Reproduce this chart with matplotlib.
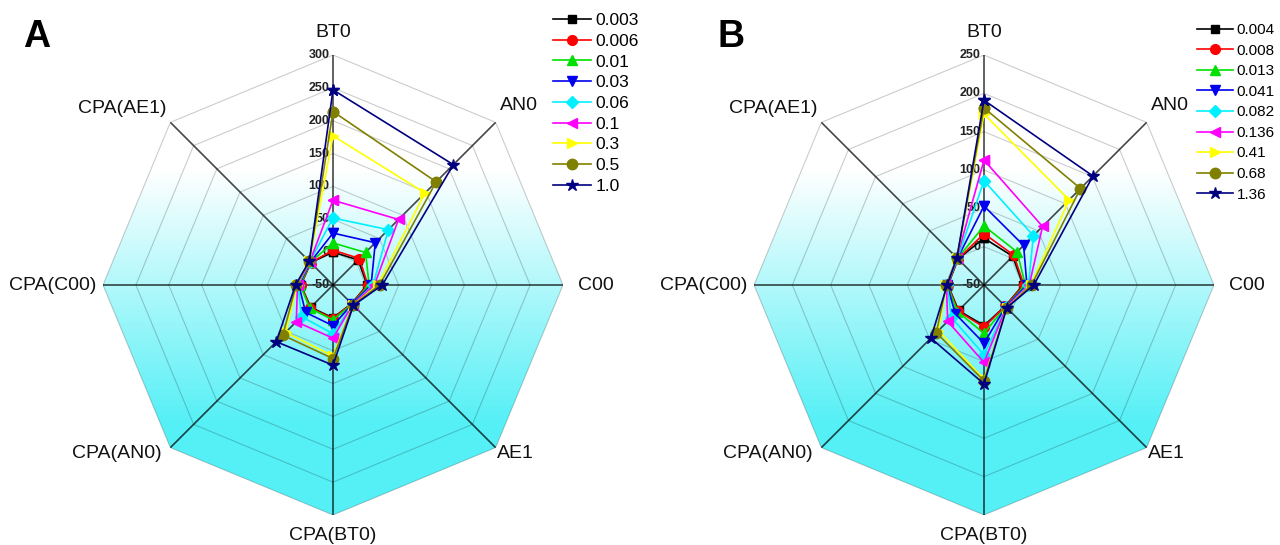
import numpy as np
import matplotlib
matplotlib.use('Agg')
import matplotlib.pyplot as plt
from matplotlib.patches import Polygon

plt.rcParams['font.family'] = ['Liberation Sans', 'DejaVu Sans']

# ---------------- data ----------------
axis_labels = ['BT0', 'AN0', 'C00', 'AE1', 'CPA(BT0)', 'CPA(AN0)', 'CPA(C00)', 'CPA(AE1)']

conc_A = ['0.003', '0.006', '0.01', '0.03', '0.06', '0.1', '0.3', '0.5', '1.0']
ticks_A = [-50, 0, 50, 100, 150, 200, 250, 300]
values_A = [
    [0, 4, 2, -10, 0, -2, -1, -2],
    [3, 7, 3, -10, 1, -1, -1, -2],
    [14, 20, 5, -9, 3, 0, 0, -1],
    [29, 41, 8, -9, 12, 9, 2, -1],
    [52, 69, 11, -8, 24, 18, 3, 0],
    [79, 91, 13, -8, 31, 29, 4, 0],
    [177, 148, 18, -7, 58, 52, 5, 1],
    [214, 172, 21, -7, 62, 58, 6, 1],
    [247, 209, 25, -6, 72, 72, 7, 1],
]

conc_B = ['0.004', '0.008', '0.013', '0.041', '0.082', '0.136', '0.41', '0.68', '1.36']
ticks_B = [-50, 0, 50, 100, 150, 200, 250]
values_B = [
    [11, 3, 1, -11, 3, -3, -3, -2],
    [17, 5, 2, -11, 5, -2, -3, -2],
    [27, 11, 4, -10, 13, -1, -2, -1],
    [53, 23, 6, -10, 26, 3, -2, -1],
    [86, 41, 8, -9, 41, 10, -2, -1],
    [113, 58, 9, -9, 51, 17, -1, 0],
    [173, 107, 11, -8, 73, 34, -1, 0],
    [181, 128, 12, -8, 75, 38, -1, 0],
    [191, 151, 15, -8, 79, 48, -2, 0],
]

# ---------------- styles ----------------
colors = ['#000000', '#ff0000', '#00e000', '#0000ee', '#00f0ff',
          '#ff00ff', '#ffff00', '#808000', '#000080']
markers = ['s', 'o', '^', 'v', 'D', '<', '>', 'o', '*']
msizes = [6, 7, 7, 7.5, 6, 7.5, 7.5, 7.5, 9]

label_offsets = [  # (dx, dy) in points, ha, va
    ((0, 16), 'center', 'center'),
    ((3, 12), 'left', 'center'),
    ((11, 0), 'left', 'center'),
    ((1, -4), 'left', 'center'),
    ((0, -15), 'center', 'center'),
    ((-6, -4), 'right', 'center'),
    ((-4.5, 0), 'right', 'center'),
    ((-3, 10), 'right', 'center'),
]

W, H = 1280, 545
fig = plt.figure(figsize=(W / 100, H / 100), dpi=100)


def px_rect(left, top, size):
    return [left / W, 1 - (top + size) / H, size / W, size / H]


def draw_panel(rect, conc, values, ticks, legend_anchor, legend_fs, handlelen, lspacing):
    n = len(axis_labels)
    theta = np.arange(n) * 2 * np.pi / n
    rmin, rmax = ticks[0], ticks[-1]

    # gradient background clipped to the octagon
    axbg = fig.add_axes(rect)
    axbg.set_xlim(-1, 1)
    axbg.set_ylim(-1, 1)
    axbg.axis('off')
    yy = np.linspace(-1, 1, 500)
    t = np.clip((0.50 - yy) / (0.50 + 0.60), 0, 1)
    white = np.array([1.0, 1.0, 1.0])
    cyan = np.array([85, 240, 246]) / 255
    img = (white[None, :] * (1 - t[:, None]) + cyan[None, :] * t[:, None])[:, None, :]
    im = axbg.imshow(img, extent=(-1, 1, -1, 1), origin='lower', aspect='auto',
                     interpolation='bilinear', zorder=0)
    octo = Polygon(np.column_stack([np.sin(theta), np.cos(theta)]), closed=True,
                   transform=axbg.transData, facecolor='none', edgecolor='none')
    axbg.add_patch(octo)
    im.set_clip_path(octo)

    ax = fig.add_axes(rect, projection='polar')
    ax.set_theta_zero_location('N')
    ax.set_theta_direction(-1)
    ax.set_ylim(rmin, rmax)
    ax.patch.set_alpha(0)
    ax.grid(False)
    ax.set_xticks([])
    ax.set_yticks([])
    ax.spines['polar'].set_visible(False)

    th_closed = np.append(theta, theta[0])
    for v in ticks[1:]:
        ax.plot(th_closed, [v] * (n + 1), color='black', alpha=0.2, lw=0.8, zorder=1)
    for th in theta:
        ax.plot([th, th], [rmin, rmax], color='black', alpha=0.72, lw=1.2, zorder=2)

    for v in ticks:
        ax.annotate(str(v), xy=(0, v), xytext=(-2.5, 0), textcoords='offset points',
                    ha='right', va='center', fontsize=9, fontweight='bold',
                    color='#222222', zorder=3)

    for th, lab, (off, ha, va) in zip(theta, axis_labels, label_offsets):
        ax.annotate(lab, xy=(th, rmax), xytext=off, textcoords='offset points',
                    ha=ha, va=va, fontsize=14, color='#111111', annotation_clip=False)

    for vals, c, m, ms, lab in zip(values, colors, markers, msizes, conc):
        ax.plot(th_closed, np.append(vals, vals[0]), color=c, lw=1.2, marker=m,
                ms=ms, mfc=c, mec=c, label=lab, zorder=5, clip_on=False)

    fig.legend(*ax.get_legend_handles_labels(), loc='upper left',
               bbox_to_anchor=legend_anchor, frameon=False, fontsize=legend_fs,
               borderpad=0, borderaxespad=0, labelspacing=lspacing,
               handlelength=handlelen, handletextpad=0.25)


draw_panel(px_rect(103, 55, 460), conc_A, values_A, ticks_A,
           (553 / W, 1 - 13 / H), 12.5, 2.2, 0.32)
draw_panel(px_rect(754, 55, 460), conc_B, values_B, ticks_B,
           (1197 / W, 1 - 23 / H), 11, 2.35, 0.43)

fig.text(23 / W, 1 - 47 / H, 'A', fontsize=27, fontweight='bold', va='baseline')
fig.text(718 / W, 1 - 47 / H, 'B', fontsize=27, fontweight='bold', va='baseline')

fig.savefig('out.png', dpi=100)
